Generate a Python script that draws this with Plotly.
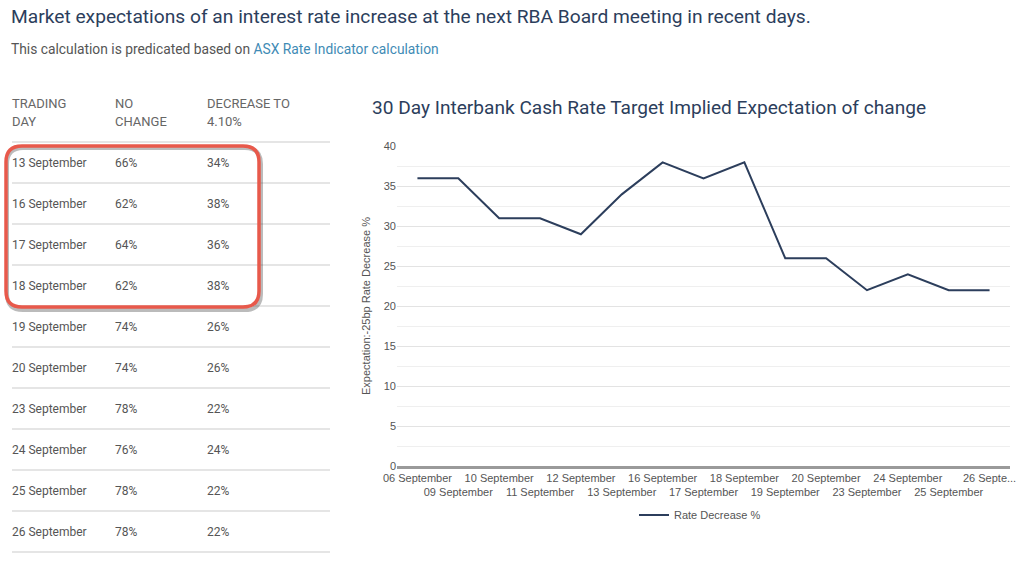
import plotly.graph_objects as go

# ---------------- data ----------------
table_days = ["13 September", "16 September", "17 September", "18 September",
              "19 September", "20 September", "23 September", "24 September",
              "25 September", "26 September"]
table_no_change = ["66%", "62%", "64%", "62%", "74%", "74%", "78%", "76%", "78%", "78%"]
table_decrease = ["34%", "38%", "36%", "38%", "26%", "26%", "22%", "24%", "22%", "22%"]

chart_dates = ["06 September", "09 September", "10 September", "11 September",
               "12 September", "13 September", "16 September", "17 September",
               "18 September", "19 September", "20 September", "23 September",
               "24 September", "25 September", "26 September"]
rate_decrease = [36, 36, 31, 31, 29, 34, 38, 36, 38, 26, 26, 22, 24, 22, 22]

W, H = 1024, 562
def px(x):
    return x / W
def py(y):
    return 1 - y / H

TITLE_FONT = "Roboto, Open Sans, sans-serif"
BODY_FONT = "Roboto, Open Sans, sans-serif"
CHART_FONT = "Liberation Sans, Arial, sans-serif"
NAVY = "#2c3e5c"

fig = go.Figure()

# tick labels staggered on two rows
ticktext = []
for i, d in enumerate(chart_dates):
    lab = d if i < len(chart_dates) - 1 else "26 Septe..."
    ticktext.append(lab if i % 2 == 0 else "<br>" + lab)

fig.add_trace(go.Scatter(
    x=list(range(len(chart_dates))), y=rate_decrease, mode="lines",
    name="Rate Decrease %", line=dict(color=NAVY, width=2),
))

fig.update_layout(
    width=W, height=H,
    margin=dict(l=0, r=0, t=0, b=0),
    paper_bgcolor="white", plot_bgcolor="white",
    showlegend=True,
    legend=dict(orientation="h", x=px(700), y=py(515), xanchor="center", yanchor="middle",
                font=dict(family=CHART_FONT, size=11, color="#555"),
                itemwidth=30),
    xaxis=dict(domain=[px(397), px(1010)], range=[-0.5, len(chart_dates) - 0.5],
               tickmode="array", tickvals=list(range(len(chart_dates))), ticktext=ticktext,
               tickangle=0, showgrid=False, zeroline=False,
               showline=True, linecolor="#9a9a9a", linewidth=2.5,
               tickfont=dict(family=CHART_FONT, size=11, color="#555"),
               automargin=False, fixedrange=True),
    yaxis=dict(domain=[py(466), py(146)], range=[0, 40.05], dtick=5, tick0=0,
               showgrid=True, gridcolor="#e3e3e3", gridwidth=1.2,
               minor=dict(dtick=2.5, showgrid=True, gridcolor="#efefef", gridwidth=1),
               zeroline=False, showline=False,
               tickfont=dict(family=CHART_FONT, size=11, color="#555"),
               title=dict(text="Expectation:-25bp Rate Decrease %",
                          font=dict(family=CHART_FONT, size=11, color="#555"), standoff=10),
               automargin=False, fixedrange=True),
)

ann = []
# page title
ann.append(dict(text="Market expectations of an interest rate increase at the next RBA Board meeting in recent days.",
                x=px(9), y=py(17), xanchor="left", yanchor="middle", showarrow=False,
                xref="paper", yref="paper", font=dict(family=TITLE_FONT, size=19.2, color=NAVY)))
ann.append(dict(text="This calculation is predicated based on <span style='color:#3f8bb5'>ASX Rate Indicator calculation</span>",
                x=px(9), y=py(49), xanchor="left", yanchor="middle", showarrow=False,
                xref="paper", yref="paper", font=dict(family=BODY_FONT, size=13.8, color="#555")))
# chart title
ann.append(dict(text="30 Day Interbank Cash Rate Target Implied Expectation of change",
                x=px(370), y=py(107), xanchor="left", yanchor="middle", showarrow=False,
                xref="paper", yref="paper", font=dict(family=TITLE_FONT, size=19.1, color=NAVY)))

# table header
headers = [("TRADING", "DAY", 12), ("NO", "CHANGE", 115), ("DECREASE TO", "4.10%", 207)]
for l1, l2, xx in headers:
    for txt, yy in ((l1, 104), (l2, 122)):
        ann.append(dict(text=txt, x=px(xx - 2), y=py(yy), xanchor="left", yanchor="middle",
                        showarrow=False, xref="paper", yref="paper",
                        font=dict(family=BODY_FONT, size=13, color="#666")))

shapes = []
row_h = 41
for k in range(len(table_days) + 1):
    yy = 142 + k * row_h
    shapes.append(dict(type="line", xref="paper", yref="paper", x0=px(12), x1=px(330),
                       y0=py(yy), y1=py(yy), line=dict(color="#dcdcdc", width=1.5)))

for i, (d, n, r) in enumerate(zip(table_days, table_no_change, table_decrease)):
    yy = 163 + i * row_h
    for txt, xx in ((d, 12), (n, 115), (r, 207)):
        ann.append(dict(text=txt, x=px(xx - 2), y=py(yy), xanchor="left", yanchor="middle",
                        showarrow=False, xref="paper", yref="paper",
                        font=dict(family=BODY_FONT, size=12, color="#555")))

# highlight rounded rectangle
def rrect(x0, y0, x1, y1, r):
    p = (f"M {px(x0 + r)} {py(y0)} L {px(x1 - r)} {py(y0)} "
         f"Q {px(x1)} {py(y0)} {px(x1)} {py(y0 + r)} "
         f"L {px(x1)} {py(y1 - r)} Q {px(x1)} {py(y1)} {px(x1 - r)} {py(y1)} "
         f"L {px(x0 + r)} {py(y1)} Q {px(x0)} {py(y1)} {px(x0)} {py(y1 - r)} "
         f"L {px(x0)} {py(y0 + r)} Q {px(x0)} {py(y0)} {px(x0 + r)} {py(y0)} Z")
    return p

shapes.append(dict(type="path", xref="paper", yref="paper", path=rrect(7, 148, 261, 310, 16),
                   line=dict(color="rgba(60,60,60,0.35)", width=4)))
shapes.append(dict(type="path", xref="paper", yref="paper", path=rrect(6, 146, 259, 307, 16),
                   line=dict(color="#e8594b", width=3.5)))

fig.update_layout(annotations=ann, shapes=shapes)
fig.write_html("out.html", config={"displayModeBar": False},
               post_script="document.body.style.margin='0';document.body.style.padding='0';")
